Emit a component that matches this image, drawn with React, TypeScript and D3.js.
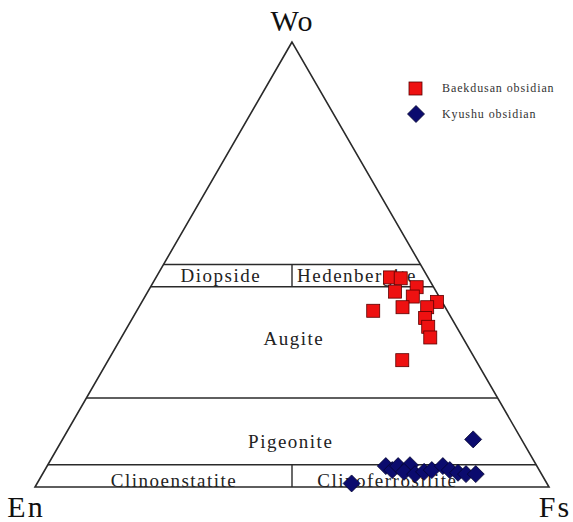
import React from 'react';
import * as d3 from 'd3';

// ternary compositions (Wo, En, Fs in %)
const baekWo = [47.1, 46.9, 44.9, 43.9, 42.8, 41.6, 39.6, 40.4, 40.4, 38.0, 36.0, 33.6, 28.5];
const baekEn = [7.4, 5.4, 3.3, 8.0, 5.1, 1.0, 14.4, 8.3, 3.5, 5.1, 5.5, 6.3, 14.3];
const baekFs = [45.5, 47.7, 51.8, 48.1, 52.1, 57.4, 46.0, 51.3, 56.1, 56.9, 58.5, 60.1, 57.2];

const kyuWo = [4.7, 3.8, 4.7, 4.9, 3.4, 2.9, 3.4, 3.8, 4.7, 3.8, 3.2, 2.9, 2.9, 10.7, 0.8];
const kyuEn = [29.4, 28.6, 27.0, 24.6, 26.5, 24.6, 22.6, 20.9, 18.3, 17.4, 16.1, 14.7, 12.8, 9.4, 38.0];
const kyuFs = [65.9, 67.6, 68.3, 70.5, 70.1, 72.5, 74.0, 75.3, 77.0, 78.8, 80.7, 82.4, 84.3, 79.9, 61.2];

// field boundaries (Wo %) and field names
const woLevels = [5, 20, 45, 50];
const fields = [
  { name: 'Diopside', wo: 47.5, fs: 12.4 },
  { name: 'Hedenbergite', wo: 47.5, fs: 38.9 },
  { name: 'Augite', wo: 33.3, fs: 33.7 },
  { name: 'Pigeonite', wo: 10.3, fs: 44.6 },
  { name: 'Clinoenstatite', wo: 1.5, fs: 26.3 },
  { name: 'Clinoferrosilite', wo: 1.5, fs: 67.8 },
];

const W = 573;
const H = 522;

const xs = d3.scaleLinear().domain([0, 100]).range([35, 549]);
const ys = d3.scaleLinear().domain([0, 100]).range([487, 42]);

const px = (wo: number, fs: number) => xs(fs + wo / 2);
const py = (wo: number) => ys(wo);

const font = '"Liberation Serif", "Times New Roman", serif';
const lineColor = '#2a2a2a';

export default function App() {
  const tri = d3.line()([
    [px(100, 0), py(100)],
    [px(0, 0), py(0)],
    [px(0, 100), py(0)],
  ]) + 'Z';

  const baek = baekWo.map((wo, i) => ({ wo, en: baekEn[i], fs: baekFs[i] }));
  const kyu = kyuWo.map((wo, i) => ({ wo, en: kyuEn[i], fs: kyuFs[i] }));

  const sq = 13;
  const dm = 8.5;
  const diamond = `M0,${-dm}L${dm},0L0,${dm}L${-dm},0Z`;

  return (
    <svg width={W} height={H} style={{ position: 'absolute', left: 0, top: 0, background: '#fff' }}>
      <path d={tri} fill="none" stroke={lineColor} strokeWidth={1.6} strokeLinejoin="miter" />
      {woLevels.map(wo => (
        <line key={wo} x1={px(wo, 0)} x2={px(wo, 100 - wo)} y1={py(wo)} y2={py(wo)}
          stroke={lineColor} strokeWidth={1.6} />
      ))}
      {/* En = Fs dividers */}
      <line x1={xs(50)} x2={xs(50)} y1={py(45)} y2={py(50)} stroke={lineColor} strokeWidth={1.4} />
      <line x1={xs(50)} x2={xs(50)} y1={py(0)} y2={py(5)} stroke={lineColor} strokeWidth={1.4} />

      {fields.map(f => (
        <text key={f.name} x={px(f.wo, f.fs)} y={py(f.wo)} dy="0.35em" textAnchor="middle"
          fontFamily={font} fontSize={19} letterSpacing={1.5} fill="#222">{f.name}</text>
      ))}

      <text x={xs(50)} y={31} textAnchor="middle" fontFamily={font} fontSize={30} letterSpacing={1} fill="#111">Wo</text>
      <text x={26} y={517} textAnchor="middle" fontFamily={font} fontSize={30} letterSpacing={2} fill="#111">En</text>
      <text x={555} y={517} textAnchor="middle" fontFamily={font} fontSize={30} letterSpacing={2} fill="#111">Fs</text>

      {baek.map((d, i) => (
        <rect key={'b' + i} x={px(d.wo, d.fs) - sq / 2} y={py(d.wo) - sq / 2} width={sq} height={sq}
          fill="#ee1111" stroke="#5a0000" strokeWidth={0.8} />
      ))}
      {kyu.map((d, i) => (
        <path key={'k' + i} d={diamond} transform={`translate(${px(d.wo, d.fs)},${py(d.wo)})`}
          fill="#0b0b6e" stroke="#050530" strokeWidth={0.8} />
      ))}

      {/* legend */}
      <rect x={409} y={82} width={13} height={13} fill="#ee1111" stroke="#5a0000" strokeWidth={0.8} />
      <text x={442} y={92} fontFamily={font} fontSize={12} letterSpacing={0.9} fill="#333">Baekdusan obsidian</text>
      <path d={diamond} transform="translate(416,114)" fill="#0b0b6e" stroke="#050530" strokeWidth={0.8} />
      <text x={442} y={118} fontFamily={font} fontSize={12} letterSpacing={0.9} fill="#333">Kyushu obsidian</text>
    </svg>
  );
}
